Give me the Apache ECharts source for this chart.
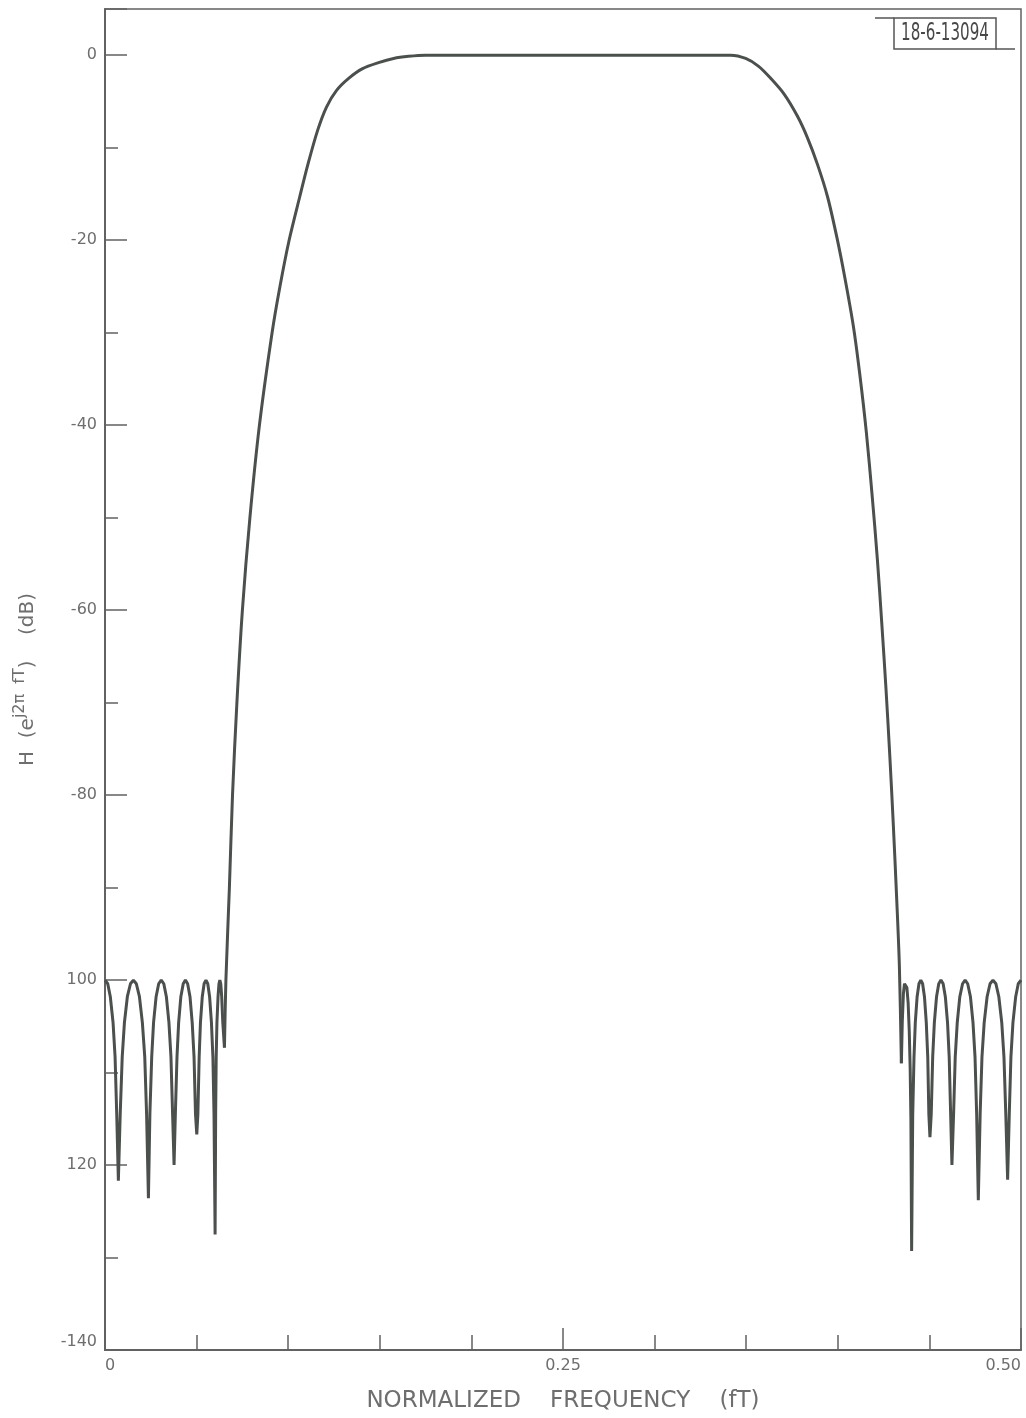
<!DOCTYPE html>
<html>
<head>
<meta charset="utf-8">
<script src="https://cdn.jsdelivr.net/npm/echarts@6/dist/echarts.min.js"></script>
<style>
  html, body { margin: 0; padding: 0; background: #fff; }
  #chart { width: 1026px; height: 1418px; }
</style>
</head>
<body>
<div id="chart"></div>
<script>
// frequency response: [normalized frequency, dB]
const leftStopband = [
  [0, -100], [0.0015, -100.4], [0.0029, -101.8], [0.0044, -104.6], [0.0055, -108.3], [0.0064, -114.5], [0.0073, -121.7],
  [0.0083, -114.5], [0.0094, -108.3], [0.0106, -104.6], [0.0122, -101.8], [0.0139, -100.4], [0.0155, -100],
  [0.0171, -100.4], [0.0188, -101.8], [0.0204, -104.6], [0.0217, -108.3], [0.0227, -114.5], [0.0237, -123.6],
  [0.0245, -114.5], [0.0255, -108.3], [0.0265, -104.6], [0.0279, -101.8], [0.0293, -100.4], [0.0307, -100],
  [0.0321, -100.4], [0.0335, -101.8], [0.0349, -104.6], [0.0360, -108.3], [0.0369, -114.5], [0.0377, -120.0],
  [0.0384, -114.5], [0.0393, -108.3], [0.0402, -104.6], [0.0414, -101.8], [0.0427, -100.4], [0.0439, -100],
  [0.0451, -100.4], [0.0464, -101.8], [0.0476, -104.6], [0.0486, -108.3], [0.0494, -114.5], [0.0501, -116.7],
  [0.0507, -114.5], [0.0514, -108.3], [0.0521, -104.6], [0.0531, -101.8], [0.0541, -100.4], [0.0551, -100],
  [0.0561, -100.4], [0.0571, -101.8], [0.0581, -104.6], [0.0589, -108.3], [0.0595, -114.5], [0.0601, -127.5],
  [0.0604, -114.5], [0.0607, -108.3], [0.0611, -104.6], [0.0617, -101.8], [0.0622, -100.4], [0.0627, -100],
  [0.0632, -100.4], [0.0637, -101.8], [0.0643, -104.6], [0.0652, -107.3]
];
const riseBand = [
  [0.0660, -100], [0.0679, -90], [0.0696, -80], [0.0720, -70], [0.0750, -60], [0.0791, -50],
  [0.0843, -40], [0.0912, -30], [0.0955, -25], [0.1005, -20], [0.1063, -15.3], [0.1109, -11.7],
  [0.1161, -8.1], [0.1209, -5.6], [0.1264, -3.8], [0.1330, -2.5], [0.1406, -1.45], [0.1493, -0.8],
  [0.1575, -0.35], [0.1657, -0.12], [0.1749, 0]
];
const passBand = [[0.2, 0], [0.25, 0], [0.3, 0]];
const fallBand = [
  [0.3415, 0], [0.3497, -0.35], [0.3568, -1.2], [0.3634, -2.5], [0.3707, -4.2], [0.3780, -6.6],
  [0.3834, -8.9], [0.3889, -11.8], [0.3944, -15.3], [0.3995, -19.7], [0.4038, -24.0], [0.4085, -29.3],
  [0.4120, -34.5], [0.4156, -40.8], [0.4187, -47.5], [0.4216, -54.5], [0.4240, -61.4], [0.4263, -68.5],
  [0.4284, -75.8], [0.4303, -83.2], [0.4321, -91.0], [0.4336, -98.4]
];
const rightStopband = [
  [0.4347, -109.0], [0.4352, -104.5], [0.4358, -101.5], [0.4364, -100.4], [0.4370, -100.2], [0.4377, -100.8],
  [0.4384, -102.5], [0.4390, -105.5], [0.4395, -109.5], [0.4399, -115.0], [0.4403, -129.3],
  [0.4409, -114.5], [0.4416, -108.3], [0.4423, -104.6], [0.4433, -101.8], [0.4443, -100.4], [0.4453, -100],
  [0.4463, -100.4], [0.4473, -101.8], [0.4483, -104.6], [0.4491, -108.3], [0.4497, -114.5], [0.4503, -117.0],
  [0.4510, -114.5], [0.4518, -108.3], [0.4527, -104.6], [0.4539, -101.8], [0.4551, -100.4], [0.4563, -100],
  [0.4575, -100.4], [0.4587, -101.8], [0.4599, -104.6], [0.4608, -108.3], [0.4616, -114.5], [0.4623, -120.0],
  [0.4632, -114.5], [0.4641, -108.3], [0.4652, -104.6], [0.4666, -101.8], [0.4681, -100.4], [0.4695, -100],
  [0.4709, -100.4], [0.4724, -101.8], [0.4738, -104.6], [0.4749, -108.3], [0.4758, -114.5], [0.4767, -123.8],
  [0.4777, -114.5], [0.4787, -108.3], [0.4799, -104.6], [0.4815, -101.8], [0.4831, -100.4], [0.4847, -100],
  [0.4863, -100.4], [0.4879, -101.8], [0.4895, -104.6], [0.4907, -108.3], [0.4917, -114.5], [0.4927, -121.6],
  [0.4936, -114.5], [0.4945, -108.3], [0.4956, -104.6], [0.4971, -101.8], [0.4985, -100.4], [0.5, -100]
];

// tick labels as printed on the original
const xTickValues = [0, 0.25, 0.5];
const xTickLabels = ['0', '0.25', '0.50'];
const yTickValues = [0, -20, -40, -60, -80, -100, -120, -140];
const yTickLabels = ['0', '-20', '-40', '-60', '-80', '100', '120', '-140'];

const axisColor = '#626262';
const textColor = '#6e6e6e';
const curveColor = '#4b504d';
const font = "'DejaVu Sans', sans-serif";

function pickLabel(values, labels, v) {
  for (let i = 0; i < values.length; i++) {
    if (Math.abs(values[i] - v) < 1e-9) return labels[i];
  }
  return '';
}

// the transition + passband part is drawn smooth, the stopband ripples are drawn point to point
const midCurve = [leftStopband[leftStopband.length - 1]]
  .concat(riseBand, passBand, fallBand, [rightStopband[0]]);

const chart = echarts.init(document.getElementById('chart'));
chart.setOption({
  animation: false,
  backgroundColor: '#fff',
  grid: {
    left: 105, right: 5, top: 9, bottom: 66,
    show: true, borderColor: axisColor, borderWidth: 1.5,
    containLabel: false
  },
  xAxis: [{
    type: 'value', min: 0, max: 0.5, interval: 0.25, position: 'bottom',
    axisLine: { show: true, onZero: false, lineStyle: { color: axisColor, width: 2 } },
    axisTick: { show: true, inside: true, length: 22, lineStyle: { color: axisColor, width: 1.5 } },
    minorTick: { show: true, splitNumber: 5, length: 15, lineStyle: { color: axisColor, width: 1.5 } },
    splitLine: { show: false },
    axisLabel: {
      color: textColor, fontFamily: font, fontSize: 16, margin: 8,
      alignMinLabel: 'left', alignMaxLabel: 'right',
      formatter: v => pickLabel(xTickValues, xTickLabels, v)
    },
    name: 'NORMALIZED    FREQUENCY    (fT)',
    nameLocation: 'middle', nameGap: 40,
    nameTextStyle: { color: textColor, fontFamily: font, fontSize: 23 }
  }],
  yAxis: [{
    type: 'value', min: -140, max: 5, interval: 20, position: 'left',
    axisLine: { show: true, onZero: false, lineStyle: { color: axisColor, width: 2 } },
    axisTick: { show: true, inside: true, length: 22, lineStyle: { color: axisColor, width: 1.5 } },
    splitLine: { show: false },
    axisLabel: {
      color: textColor, fontFamily: font, fontSize: 16, margin: 8,
      verticalAlignMinLabel: 'bottom',
      formatter: v => pickLabel(yTickValues, yTickLabels, v)
    },
    name: '{n|H  (e}{s|j2π  fT}{n|)    (dB)}',
    nameLocation: 'middle', nameGap: 67, nameRotate: 90,
    nameTextStyle: {
      color: textColor, fontFamily: font, fontSize: 20,
      rich: {
        n: { color: textColor, fontFamily: font, fontSize: 20, lineHeight: 26, verticalAlign: 'bottom' },
        s: { color: textColor, fontFamily: font, fontSize: 16, lineHeight: 26, verticalAlign: 'top' }
      }
    }
  }, {
    type: 'value', min: -140, max: 5, interval: 10, position: 'left',
    axisLine: { show: false, onZero: false },
    axisTick: { show: true, inside: true, length: 13, lineStyle: { color: axisColor, width: 1.5 } },
    axisLabel: { show: false },
    splitLine: { show: false }
  }],
  graphic: [
    { type: 'rect', shape: { x: 894, y: 18, width: 102, height: 31 },
      style: { fill: 'transparent', stroke: '#555', lineWidth: 1.5 } },
    { type: 'line', shape: { x1: 875, y1: 18, x2: 894, y2: 18 }, style: { stroke: '#555', lineWidth: 1.5 } },
    { type: 'line', shape: { x1: 996, y1: 49, x2: 1015, y2: 49 }, style: { stroke: '#555', lineWidth: 1.5 } },
    { type: 'text', x: 945, y: 34, scaleX: 0.7,
      style: { text: '18-6-13094', fill: '#484848', fontSize: 24,
        fontFamily: "'Liberation Sans Narrow', 'DejaVu Sans Condensed', sans-serif",
        align: 'center', verticalAlign: 'middle' } }
  ],
  series: [{
    type: 'line', xAxisIndex: 0, yAxisIndex: 0,
    showSymbol: false, smooth: false,
    lineStyle: { color: curveColor, width: 3 },
    data: leftStopband
  }, {
    type: 'line', xAxisIndex: 0, yAxisIndex: 0,
    showSymbol: false, smooth: 0.3,
    lineStyle: { color: curveColor, width: 3 },
    data: midCurve
  }, {
    type: 'line', xAxisIndex: 0, yAxisIndex: 0,
    showSymbol: false, smooth: false,
    lineStyle: { color: curveColor, width: 3 },
    data: rightStopband
  }]
});
window.addEventListener('resize', function () { chart.resize(); });
</script>
</body>
</html>
